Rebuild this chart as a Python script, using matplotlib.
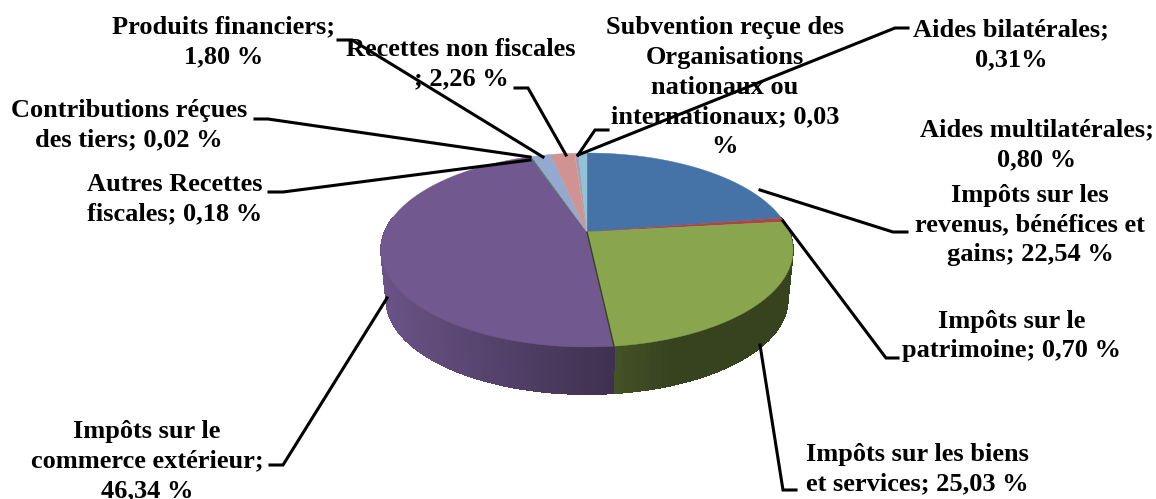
"""3D-looking pie of revenue shares, drawn with plain polygons."""
import numpy as np
import matplotlib
matplotlib.use("Agg")
import matplotlib.pyplot as plt

# clockwise from 12 o'clock
CATEGORIES = [
    "Impôts sur les\nrevenus, bénéfices et\ngains; {} %",
    "Impôts sur le\npatrimoine; {} %",
    "Impôts sur les biens\net services; {} %",
    "Impôts sur le\ncommerce extérieur;\n{} %",
    "Autres Recettes\nfiscales; {} %",
    "Contributions réçues\ndes tiers; {} %",
    "Produits financiers;\n{} %",
    "Recettes non fiscales\n; {} %",
    "Subvention reçue des\nOrganisations\nnationaux ou\ninternationaux; {}\n%",
    "Aides bilatérales;\n{}%",
    "Aides multilatérales;\n{} %",
]
VALUES = [22.54, 0.70, 25.03, 46.34, 0.18, 0.02, 1.80, 2.26, 0.03, 0.31, 0.80]
COLORS = ["#4572a7", "#aa4643", "#89a54e", "#71588f", "#2f7f8f", "#db843d",
          "#93a9cf", "#d19392", "#b9cd96", "#a99bbd", "#91c3d5"]

# label centre in pixels
LABEL_POS = [(1030, 225), (1012, 336), (917, 469), (147, 461), (175, 199),
             (129, 125), (224, 42), (461, 64), (725, 87), (1011, 45), (1037, 145)]
# leader polylines in pixels, None = no leader
LEADERS = [
    [(760, 190), (893, 232), (907, 232)],
    [(783, 221), (886, 358), (898, 358)],
    [(760, 345), (783, 490), (796, 490)],
    [(387, 298), (283, 465), (270, 465)],
    [(530, 160), (283, 192), (269, 192)],
    [(530, 157), (268, 119), (255, 119)],
    [(543, 157), (352, 40), (338, 40)],
    [(566, 155), (528, 88), (515, 88)],
    [(578, 155), (595, 130), (608, 130)],
    [(578, 155), (895, 28), (908, 28)],
    None,
]

W, H = 1156, 499
CX, CY = 587, 232      # where the slices meet
KX, KY = 202.4, -50.6  # projection scale
PERSP = 0.1856
DEPTH = 50
BOTTOM_SCALE = 0.975


def project(theta, bottom=False):
    """Unit circle angle (clockwise from top) to pixel position."""
    u, v = np.sin(theta), np.cos(theta)
    d = 1 + PERSP * v
    x = KX * u / d
    y = (KY * v + CY) / d - CY
    if bottom:
        return CX + x * BOTTOM_SCALE, CY + y * BOTTOM_SCALE + DEPTH
    return CX + x, CY + y


def shade(color, f):
    r, g, b = matplotlib.colors.to_rgb(color)
    return (r * f, g * f, b * f)


fig = plt.figure(figsize=(W / 100, H / 100), dpi=100)
ax = fig.add_axes([0, 0, 1, 1])
ax.set_xlim(0, W)
ax.set_ylim(H, 0)
ax.axis("off")

edges = np.cumsum([0] + VALUES) / sum(VALUES) * 2 * np.pi

# side wall, only the front half shows
wall_shades = {2: (0.50, 0.40), 3: (0.92, 0.55)}
for i, (a, b) in enumerate(zip(edges[:-1], edges[1:])):
    lo, hi = max(a, np.pi * 0.45), min(b, np.pi * 1.55)
    if hi <= lo:
        continue
    steps = np.linspace(lo, hi, int((hi - lo) * 40) + 2)
    x_left = project(hi)[0]
    x_right = project(lo)[0]
    for t0, t1 in zip(steps[:-1], steps[1:]):
        x0, y0 = project(t0)
        x1, y1 = project(t1)
        x2, y2 = project(t1, bottom=True)
        x3, y3 = project(t0, bottom=True)
        left, right = wall_shades.get(i, (0.6, 0.5))
        # green wall goes dark quickly, purple is a straight ramp
        pos = ((x0 + x1) / 2 - x_left) / (x_right - x_left)
        if i == 2:
            pos = min(pos * 3, 1)
        f = left + (right - left) * pos
        ax.fill([x0, x1, x2, x3], [y0, y1, y2, y3], color=shade(COLORS[i], f),
                lw=0.5, antialiased=False, zorder=2)

# top face
for i, (a, b) in enumerate(zip(edges[:-1], edges[1:])):
    t = np.linspace(a, b, max(int((b - a) * 60), 2))
    xs, ys = project(t)
    ax.fill(np.r_[CX, xs], np.r_[CY, ys], color=COLORS[i], lw=0.3, zorder=3)

# dark seam between the two big front slices
xe, ye = project(edges[3])
ax.plot([CX, xe], [CY, ye], color="#3a4420", lw=1.0, zorder=4)

for pts in LEADERS:
    if pts is None:
        continue
    ax.plot(*zip(*pts), color="black", lw=2.2, solid_joinstyle="miter", zorder=5)

for tmpl, val, (x, y) in zip(CATEGORIES, VALUES, LABEL_POS):
    txt = tmpl.format(f"{val:.2f}".replace(".", ","))
    ax.text(x, y, txt, ha="center", va="center", family="Liberation Serif",
            fontweight="bold", fontsize=19, linespacing=1.37, color="black", zorder=6)

fig.savefig("out.png", dpi=100, facecolor="white")
